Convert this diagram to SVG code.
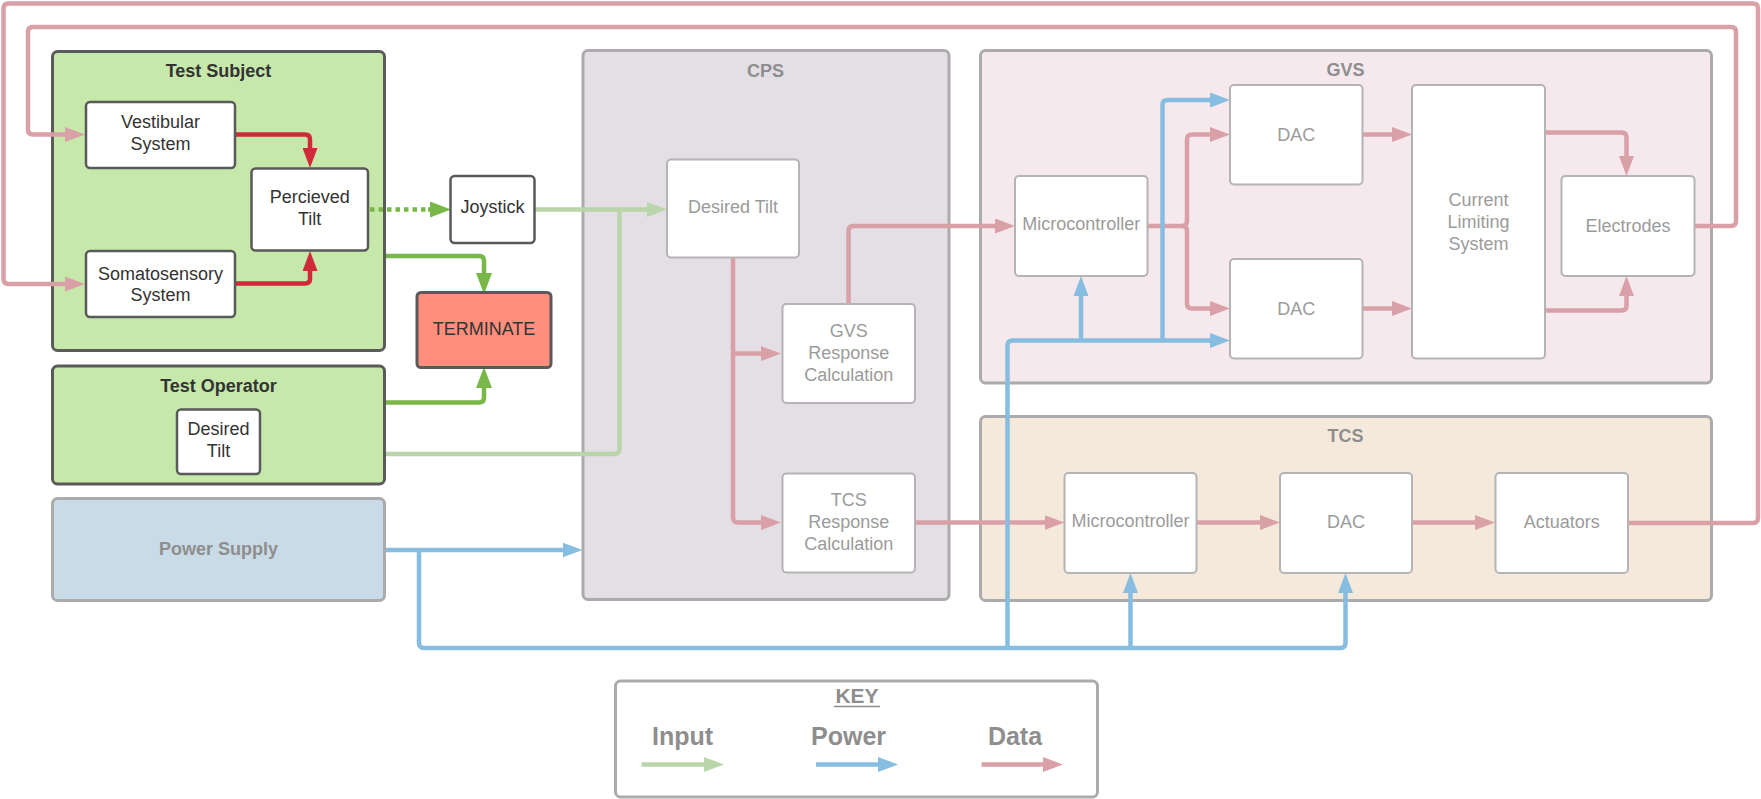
<svg xmlns="http://www.w3.org/2000/svg" width="1761" height="799" viewBox="0 0 1761 799">
<style>
text{font-family:"Liberation Sans",Arial,sans-serif;font-size:18px;text-anchor:middle}
.dk{fill:#333}
.gy{fill:#9b9b9b}
.tt{font-weight:bold}
.ttg{font-weight:bold;fill:#8e8e8e}
.grpD{stroke:#5a5a5a;stroke-width:3}
.grpL{stroke:#ababab;stroke-width:3}
.nD{fill:#fff;stroke:#5a5a5a;stroke-width:2.5}
.nL{fill:#fff;stroke:#b4b4b4;stroke-width:2}
.c{fill:none;stroke-width:4.5;stroke-linejoin:round}
.pk{stroke:#d9a0a7}
.rd{stroke:#d02a3a}
.gn{stroke:#79b748}
.lg{stroke:#b9d5a9}
.bl{stroke:#86bde0}
</style>
<defs>
<marker id="aPk" viewBox="0 0 20 15" refX="10" refY="7.5" markerWidth="20" markerHeight="15" markerUnits="userSpaceOnUse" orient="auto"><path d="M0,0 L20,7.5 L0,15 z" fill="#d9a0a7"/></marker>
<marker id="aRd" viewBox="0 0 20 15" refX="10" refY="7.5" markerWidth="20" markerHeight="15" markerUnits="userSpaceOnUse" orient="auto"><path d="M0,0 L20,7.5 L0,15 z" fill="#d02a3a"/></marker>
<marker id="aGn" viewBox="0 0 21 16" refX="10" refY="8" markerWidth="21" markerHeight="16" markerUnits="userSpaceOnUse" orient="auto"><path d="M0,0 L21,8 L0,16 z" fill="#79b748"/></marker>
<marker id="aLg" viewBox="0 0 20 15" refX="10" refY="7.5" markerWidth="20" markerHeight="15" markerUnits="userSpaceOnUse" orient="auto"><path d="M0,0 L20,7.5 L0,15 z" fill="#b9d5a9"/></marker>
<marker id="aBl" viewBox="0 0 20 15" refX="10" refY="7.5" markerWidth="20" markerHeight="15" markerUnits="userSpaceOnUse" orient="auto"><path d="M0,0 L20,7.5 L0,15 z" fill="#86bde0"/></marker>
</defs>
<rect width="1761" height="799" fill="#fff"/>

<!-- containers -->
<g id="test-subject"><rect x="52.5" y="51.5" width="332" height="299" rx="5" fill="#c7e8ab" class="grpD"/><text x="218.5" y="77" class="dk tt">Test Subject</text></g>
<g id="test-operator"><rect x="52.5" y="366" width="332" height="118" rx="5" fill="#c7e8ab" class="grpD"/><text x="218.5" y="392" class="dk tt">Test Operator</text></g>
<g id="power-supply"><rect x="52.5" y="498.5" width="332" height="102" rx="5" fill="#c9dbe6" class="grpL"/><text x="218.5" y="555" class="ttg" fill="#9b9b9b">Power Supply</text></g>
<g id="cps"><rect x="583" y="50.5" width="366" height="549" rx="5" fill="#e4dee5" class="grpL"/><text x="765.5" y="77" class="ttg">CPS</text></g>
<g id="gvs"><rect x="980.5" y="50.5" width="731" height="332.5" rx="5" fill="#f6e9ee" class="grpL"/><text x="1345.5" y="76" class="ttg">GVS</text></g>
<g id="tcs"><rect x="980.5" y="416.5" width="731" height="184" rx="5" fill="#f5e9dc" class="grpL"/><text x="1345.5" y="442" class="ttg">TCS</text></g>
<g id="key"><rect x="615.5" y="681" width="482" height="116" rx="5" fill="#fff" class="grpL"/>
<text x="857" y="703" class="ttg" style="font-size:21px">KEY</text><line x1="834" y1="706.5" x2="880" y2="706.5" stroke="#8e8e8e" stroke-width="1.5"/>
<text x="682.5" y="745" class="ttg" style="font-size:25px">Input</text>
<text x="848.5" y="745" class="ttg" style="font-size:25px">Power</text>
<text x="1015" y="745" class="ttg" style="font-size:25px">Data</text>
<path d="M641.5,764.5 H714" class="c lg" stroke-width="4" marker-end="url(#aLg)"/>
<path d="M816,764.5 H888" class="c bl" stroke-width="4" marker-end="url(#aBl)"/>
<path d="M981.5,764.5 H1053" class="c pk" stroke-width="4" marker-end="url(#aPk)"/>
</g>

<!-- connectors -->
<g id="connectors">
<path d="M1628,523 H1753 Q1758,523 1758,518 V8.5 Q1758,3.5 1753,3.5 H8.5 Q3.5,3.5 3.5,8.5 V279 Q3.5,284 8.5,284 H75" class="c pk" marker-end="url(#aPk)"/>
<path d="M1694.5,226 H1731 Q1736,226 1736,221 V32 Q1736,27 1731,27 H33 Q28,27 28,32 V129.5 Q28,134.5 33,134.5 H75" class="c pk" marker-end="url(#aPk)"/>
<path d="M733,257.5 V517 Q733,522.5 738,522.5 H771" class="c pk" marker-end="url(#aPk)"/>
<path d="M733,353.5 H771" class="c pk" marker-end="url(#aPk)"/>
<path d="M848.5,304 V231 Q848.5,226 853.5,226 H1005" class="c pk" marker-end="url(#aPk)"/>
<path d="M915,522.5 H1054.5" class="c pk" marker-end="url(#aPk)"/>
<path d="M1196.5,522.5 H1270" class="c pk" marker-end="url(#aPk)"/>
<path d="M1412,522.5 H1485" class="c pk" marker-end="url(#aPk)"/>
<path d="M1147.5,226 H1182 Q1187,226 1187,221 V139.5 Q1187,134.5 1192,134.5 H1220" class="c pk" marker-end="url(#aPk)"/>
<path d="M1182,226 Q1187,226 1187,231 V303.5 Q1187,308.5 1192,308.5 H1220" class="c pk" marker-end="url(#aPk)"/>
<path d="M1362.5,134.5 H1402" class="c pk" marker-end="url(#aPk)"/>
<path d="M1362.5,308.5 H1402" class="c pk" marker-end="url(#aPk)"/>
<path d="M1545,132.5 H1621.5 Q1626.5,132.5 1626.5,137.5 V166" class="c pk" marker-end="url(#aPk)"/>
<path d="M1545,310.5 H1621.5 Q1626.5,310.5 1626.5,305.5 V286" class="c pk" marker-end="url(#aPk)"/>

<path d="M235,134.5 H305 Q310,134.5 310,139.5 V158" class="c rd" marker-end="url(#aRd)"/>
<path d="M235,283.5 H305 Q310,283.5 310,278.5 V261" class="c rd" marker-end="url(#aRd)"/>

<path d="M370,209.5 H429" class="c gn" stroke-dasharray="4.5 4" fill="none"/>
<path d="M428,209.5 H440" class="c gn" stroke-width="1" marker-end="url(#aGn)"/>
<path d="M386,256 H479 Q484,256 484,261 V283" class="c gn" marker-end="url(#aGn)"/>
<path d="M386,402.5 H479 Q484,402.5 484,397.5 V378" class="c gn" marker-end="url(#aGn)"/>

<path d="M535,209.5 H657" class="c lg" marker-end="url(#aLg)"/>
<path d="M386,454 H614 Q619.5,454 619.5,448.5 V209.5" class="c lg"/>

<path d="M386,550 H572.5" class="c bl" marker-end="url(#aBl)"/>
<path d="M419,550 V643 Q419,648 424,648 H1340.5 Q1345.5,648 1345.5,643 V583" class="c bl" marker-end="url(#aBl)"/>
<path d="M1130.5,648 V583" class="c bl" marker-end="url(#aBl)"/>
<path d="M1007.5,648 V345.5 Q1007.5,340.5 1012.5,340.5 H1220" class="c bl" marker-end="url(#aBl)"/>
<path d="M1081,340.5 V286" class="c bl" marker-end="url(#aBl)"/>
<path d="M1162.5,340.5 V105 Q1162.5,100 1167.5,100 H1220" class="c bl" marker-end="url(#aBl)"/>
</g>

<!-- nodes -->
<g id="vestibular"><rect x="86" y="102" width="149" height="66" rx="4" class="nD"/><text x="160.5" y="127.5" class="dk">Vestibular</text><text x="160.5" y="149.5" class="dk">System</text></g>
<g id="somatosensory"><rect x="86" y="251" width="149" height="66" rx="4" class="nD"/><text x="160.5" y="279.5" class="dk">Somatosensory</text><text x="160.5" y="301" class="dk">System</text></g>
<g id="percieved-tilt"><rect x="251.5" y="168.5" width="116.5" height="82" rx="4" class="nD"/><text x="309.7" y="203" class="dk">Percieved</text><text x="309.7" y="224.5" class="dk">Tilt</text></g>
<g id="joystick"><rect x="450.5" y="176" width="84" height="67" rx="4" class="nD"/><text x="492.5" y="213" class="dk">Joystick</text></g>
<g id="terminate"><rect x="417" y="292.5" width="134" height="75" rx="4" fill="#ff8f7c" stroke="#5a5a5a" stroke-width="3"/><text x="484" y="335" class="dk">TERMINATE</text></g>
<g id="operator-desired-tilt"><rect x="177" y="409.5" width="83" height="64.5" rx="4" class="nD"/><text x="218.5" y="435" class="dk">Desired</text><text x="218.5" y="456.5" class="dk">Tilt</text></g>

<g id="cps-desired-tilt"><rect x="667" y="159.5" width="132" height="98" rx="4" class="nL"/><text x="733" y="213" class="gy">Desired Tilt</text></g>
<g id="gvs-response"><rect x="782.5" y="304" width="132.5" height="99" rx="4" class="nL"/><text x="848.7" y="336.5" class="gy">GVS</text><text x="848.7" y="358.5" class="gy">Response</text><text x="848.7" y="380.5" class="gy">Calculation</text></g>
<g id="tcs-response"><rect x="782.5" y="473.5" width="132.5" height="99" rx="4" class="nL"/><text x="848.7" y="506" class="gy">TCS</text><text x="848.7" y="528" class="gy">Response</text><text x="848.7" y="550" class="gy">Calculation</text></g>

<g id="gvs-microcontroller"><rect x="1015" y="176" width="132.5" height="100" rx="4" class="nL"/><text x="1081.2" y="230" class="gy">Microcontroller</text></g>
<g id="gvs-dac-1"><rect x="1230" y="85" width="132.5" height="99.5" rx="4" class="nL"/><text x="1296.2" y="140.5" class="gy">DAC</text></g>
<g id="gvs-dac-2"><rect x="1230" y="259" width="132.5" height="99.5" rx="4" class="nL"/><text x="1296.2" y="314.5" class="gy">DAC</text></g>
<g id="current-limiting"><rect x="1412" y="85" width="133" height="273.5" rx="4" class="nL"/><text x="1478.5" y="205.5" class="gy">Current</text><text x="1478.5" y="227.5" class="gy">Limiting</text><text x="1478.5" y="249.5" class="gy">System</text></g>
<g id="electrodes"><rect x="1561.5" y="176" width="133" height="100" rx="4" class="nL"/><text x="1628" y="231.5" class="gy">Electrodes</text></g>

<g id="tcs-microcontroller"><rect x="1064.5" y="473" width="132" height="100" rx="4" class="nL"/><text x="1130.5" y="527" class="gy">Microcontroller</text></g>
<g id="tcs-dac"><rect x="1280" y="473" width="132" height="100" rx="4" class="nL"/><text x="1346" y="528" class="gy">DAC</text></g>
<g id="actuators"><rect x="1495.5" y="473" width="132.5" height="100" rx="4" class="nL"/><text x="1561.7" y="528" class="gy">Actuators</text></g>
</svg>
